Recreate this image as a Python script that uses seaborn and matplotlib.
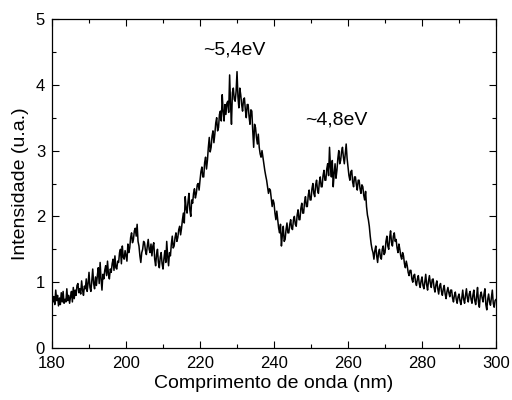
import numpy as np
import pandas as pd
import matplotlib
matplotlib.use("Agg")
import matplotlib.pyplot as plt
from matplotlib.ticker import MultipleLocator
import seaborn as sns

# Wavelength grid (nm), 0.25 nm sampling
wavelength = np.arange(180, 300.001, 0.25)

# Intensity (u.a.), four samples per nm
intensity = [
    .85, .70, .78, .66,   # 180
    .88, .72, .80, .64,   # 181
    .76, .66, .84, .70,   # 182
    .86, .68, .74, .70,   # 183
    .90, .72, .80, .68,   # 184
    .78, .86, .70, .92,   # 185
    .75, .88, .80, .95,   # 186
    .98, .84, .90, .82,   # 187
    1.02, .88, .80, .94,  # 188
    .90, 1.05, .86, .98,  # 189
    1.15, .92, .86, 1.02,  # 190
    1.20, .98, .90, 1.08,  # 191
    .95, 1.10, 1.22, .98,  # 192
    1.30, 1.05, .88, 1.12,  # 193
    1.05, 1.18, 1.25, 1.10,  # 194
    1.32, 1.12, 1.05, 1.20,  # 195
    1.15, 1.28, 1.35, 1.18,  # 196
    1.40, 1.22, 1.20, 1.32,  # 197
    1.30, 1.45, 1.50, 1.28,  # 198
    1.55, 1.38, 1.35, 1.48,  # 199
    1.40, 1.32, 1.58, 1.45,  # 200
    1.52, 1.68, 1.75, 1.60,  # 201
    1.65, 1.78, 1.82, 1.70,  # 202
    1.88, 1.62, 1.55, 1.40,  # 203
    1.30, 1.45, 1.50, 1.62,  # 204
    1.60, 1.48, 1.42, 1.55,  # 205
    1.65, 1.50, 1.45, 1.58,  # 206
    1.40, 1.55, 1.60, 1.35,  # 207
    1.25, 1.42, 1.50, 1.30,  # 208
    1.22, 1.38, 1.45, 1.28,  # 209
    1.20, 1.36, 1.48, 1.30,  # 210
    1.62, 1.40, 1.25, 1.45,  # 211
    1.40, 1.58, 1.70, 1.52,  # 212
    1.55, 1.68, 1.75, 1.62,  # 213
    1.68, 1.80, 1.85, 1.72,  # 214
    1.82, 1.95, 2.05, 1.90,  # 215
    2.30, 2.12, 2.05, 2.22,  # 216
    2.35, 2.10, 2.00, 2.25,  # 217
    2.20, 2.35, 2.42, 2.28,  # 218
    2.35, 2.48, 2.50, 2.40,  # 219
    2.55, 2.68, 2.75, 2.60,  # 220
    2.60, 2.82, 2.90, 2.72,  # 221
    2.85, 3.05, 3.20, 2.98,  # 222
    3.05, 3.22, 3.30, 3.12,  # 223
    3.25, 3.42, 3.50, 3.30,  # 224
    3.35, 3.55, 3.60, 3.45,  # 225
    3.85, 3.60, 3.45, 3.70,  # 226
    3.55, 3.72, 3.75, 3.58,  # 227
    4.15, 3.70, 3.40, 3.88,  # 228
    3.95, 3.78, 3.75, 3.90,  # 229
    4.20, 3.82, 3.65, 3.95,  # 230
    3.85, 3.70, 3.60, 3.78,  # 231
    3.80, 3.62, 3.50, 3.70,  # 232
    3.70, 3.52, 3.40, 3.62,  # 233
    3.60, 3.30, 3.05, 3.40,  # 234
    3.35, 3.20, 3.10, 3.25,  # 235
    3.05, 2.95, 2.90, 3.00,  # 236
    2.90, 2.80, 2.70, 2.62,  # 237
    2.55, 2.45, 2.35, 2.42,  # 238
    2.40, 2.28, 2.15, 2.25,  # 239
    2.20, 2.05, 1.95, 2.08,  # 240
    1.95, 1.82, 1.75, 1.88,  # 241
    1.55, 1.72, 1.85, 1.62,  # 242
    1.65, 1.80, 1.90, 1.75,  # 243
    1.75, 1.88, 1.95, 1.82,  # 244
    1.80, 1.95, 2.00, 1.88,  # 245
    1.85, 2.02, 2.10, 1.95,  # 246
    1.95, 2.12, 2.20, 2.05,  # 247
    2.05, 2.22, 2.30, 2.15,  # 248
    2.15, 2.32, 2.40, 2.25,  # 249
    2.25, 2.42, 2.50, 2.35,  # 250
    2.30, 2.48, 2.55, 2.40,  # 251
    2.35, 2.52, 2.60, 2.45,  # 252
    2.45, 2.62, 2.70, 2.55,  # 253
    2.55, 2.72, 2.80, 2.62,  # 254
    3.05, 2.75, 2.60, 2.85,  # 255
    2.45, 2.65, 2.80, 2.58,  # 256
    2.70, 2.88, 3.00, 2.80,  # 257
    2.85, 2.98, 3.05, 2.90,  # 258
    2.80, 2.95, 3.10, 2.88,  # 259
    2.75, 2.62, 2.55, 2.68,  # 260
    2.70, 2.52, 2.45, 2.60,  # 261
    2.60, 2.48, 2.40, 2.55,  # 262
    2.55, 2.42, 2.35, 2.48,  # 263
    2.45, 2.32, 2.25, 2.38,  # 264
    2.15, 2.02, 1.95, 1.85,  # 265
    1.70, 1.58, 1.50, 1.45,  # 266
    1.35, 1.48, 1.55, 1.40,  # 267
    1.30, 1.45, 1.50, 1.38,  # 268
    1.35, 1.50, 1.55, 1.42,  # 269
    1.45, 1.62, 1.70, 1.55,  # 270
    1.50, 1.68, 1.78, 1.60,  # 271
    1.55, 1.70, 1.75, 1.62,  # 272
    1.65, 1.52, 1.45, 1.58,  # 273
    1.50, 1.40, 1.35, 1.45,  # 274
    1.40, 1.28, 1.22, 1.32,  # 275
    1.25, 1.15, 1.10, 1.18,  # 276
    1.18, 1.05, 1.00, 1.10,  # 277
    1.12, 1.00, .95, 1.05,   # 278
    1.10, .98, .92, 1.02,    # 279
    1.08, .95, .90, 1.00,    # 280
    1.12, .96, .88, 1.02,    # 281
    1.10, .98, .92, 1.04,    # 282
    1.05, .92, .85, .96,     # 283
    1.02, .90, .82, .94,     # 284
    .98, .86, .80, .90,      # 285
    .95, .82, .75, .86,      # 286
    .92, .84, .78, .88,      # 287
    .88, .76, .70, .80,      # 288
    .85, .74, .68, .78,      # 289
    .82, .72, .66, .76,      # 290
    .88, .74, .68, .80,      # 291
    .90, .76, .70, .82,      # 292
    .86, .74, .68, .80,      # 293
    .88, .72, .66, .78,      # 294
    .92, .70, .62, .80,      # 295
    .85, .76, .70, .82,      # 296
    .90, .66, .58, .74,      # 297
    .82, .70, .65, .76,      # 298
    .88, .68, .62, .72,      # 299
    .74,                     # 300
]

# Annotations (text, wavelength, intensity)
labels = ["~5,4eV", "~4,8eV"]
label_x = [229.2, 256.8]
label_y = [4.53, 3.47]

df = pd.DataFrame({"wl": wavelength, "I": intensity})

sns.set_style("ticks")
plt.rcParams["font.family"] = ["Liberation Sans", "DejaVu Sans"]
plt.rcParams["text.color"] = "black"
plt.rcParams["axes.labelcolor"] = "black"
plt.rcParams["xtick.color"] = "black"
plt.rcParams["ytick.color"] = "black"

fig = plt.figure(figsize=(5.12, 4.0), dpi=100)
ax = fig.add_axes([0.1016, 0.13, 0.8672, 0.8225])

sns.lineplot(data=df, x="wl", y="I", ax=ax, color="black", linewidth=1.1)

ax.set_xlim(180, 300)
ax.set_ylim(0, 5)
ax.xaxis.set_major_locator(MultipleLocator(20))
ax.xaxis.set_minor_locator(MultipleLocator(10))
ax.yaxis.set_major_locator(MultipleLocator(1))
ax.yaxis.set_minor_locator(MultipleLocator(0.5))
ax.tick_params(which="both", direction="in", top=True, right=True,
               labelsize=12, colors="black", labelcolor="black")
ax.tick_params(axis="x", which="major", pad=6)
ax.tick_params(axis="y", which="major", pad=5)
ax.tick_params(which="major", length=5, width=0.8)
ax.tick_params(which="minor", length=3, width=0.8)
for s in ax.spines.values():
    s.set_visible(True)
    s.set_color("black")
    s.set_linewidth(0.9)

ax.set_xlabel("Comprimento de onda (nm)", fontsize=14, labelpad=3, color="black")
ax.set_ylabel("Intensidade (u.a.)", fontsize=14, labelpad=5, color="black")

for t, x, y in zip(labels, label_x, label_y):
    ax.text(x, y, t, ha="center", va="center", fontsize=14, color="black")

fig.savefig("out.png", dpi=100)
